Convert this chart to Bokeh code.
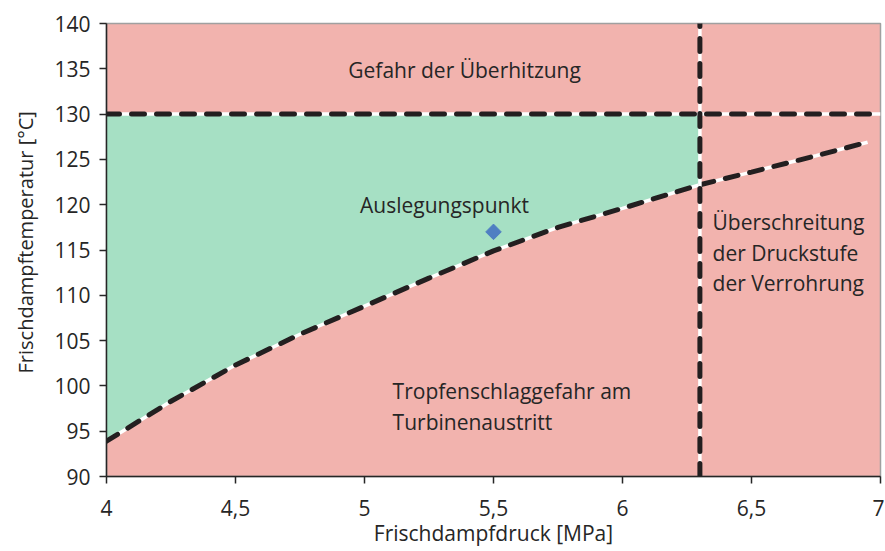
import math
from bokeh.plotting import figure
from bokeh.embed import file_html
from bokeh.resources import INLINE
from bokeh.models import FixedTicker, Label, Title
from bokeh.core.properties import value

# Data
curve_p = [4.0, 4.25, 4.5, 4.75, 5.0, 5.25, 5.5, 5.75, 6.0, 6.3, 6.5, 6.75, 6.95]
curve_t = [93.9, 98.3, 102.3, 105.7, 108.8, 111.9, 114.9, 117.5, 119.6, 122.2, 123.6, 125.4, 126.9]
temp_limit = 130
pressure_limit = 6.3
design_p = [5.5]
design_t = [117]
x_ticks = [4, 4.5, 5, 5.5, 6, 6.5, 7]
x_tick_labels = ["4", "4,5", "5", "5,5", "6", "6,5", "7"]
y_ticks = [90, 95, 100, 105, 110, 115, 120, 125, 130, 135, 140]

FONT = "Open Sans"
FS = "21px"
TXT = "#262626"
RED = "#F2B3AE"
GREEN = "#A6E0C4"
DASH = "#231F20"

p = figure(width=884, height=550, x_range=(4, 7), y_range=(90, 140),
           output_backend="svg", toolbar_location=None,
           min_border_left=106, min_border_right=4, min_border_top=23, min_border_bottom=74)

p.background_fill_color = RED
p.border_fill_color = "white"
p.outline_line_color = "#A0A0A0"
p.outline_line_width = 1.5
p.xgrid.visible = False
p.ygrid.visible = False

# green safe region
gx, gy = [], []
for xv, yv in zip(curve_p, curve_t):
    if xv <= pressure_limit:
        gx.append(xv)
        gy.append(yv)
gx = gx + [pressure_limit, curve_p[0]]
gy = gy + [temp_limit, temp_limit]
p.patch(gx, gy, fill_color=GREEN, line_color=None)

def dashed(xs, ys):
    p.line(xs, ys, line_color="white", line_width=3.5)
    p.line(xs, ys, line_color=DASH, line_width=5, line_dash="13 12", line_cap="round")

dashed(curve_p, curve_t)
dashed([4, 7], [temp_limit, temp_limit])
dashed([pressure_limit, pressure_limit], [90, 140])

# design point
p.scatter(design_p, design_t, marker="square", size=11, angle=math.pi / 4,
          fill_color="#4F7FC2", line_color="#4F7FC2")

def add_text(x, y, t, align="left"):
    p.add_layout(Label(x=x, y=y, text=t, text_font=FONT, text_font_size=FS,
                       text_color=TXT, text_align=align, text_baseline="middle"))

add_text(5.388, 134.9, "Gefahr der Überhitzung", "center")
add_text(5.31, 120.0, "Auslegungspunkt", "center")
add_text(5.109, 99.45, "Tropfenschlaggefahr am")
add_text(5.109, 96.0, "Turbinenaustritt")
add_text(6.349, 118.1, "Überschreitung")
add_text(6.349, 114.7, "der Druckstufe")
add_text(6.349, 111.4, "der Verrohrung")

# y axis title, placed like the original (above centre)
ytitle = Title(text="Frischdampftemperatur [°C]", align="left", offset=103,
               vertical_align="top",
               text_font=FONT, text_font_size="20px", text_font_style="normal",
               text_color=TXT, standoff=21)
p.add_layout(ytitle, "left")

# axes
p.xaxis.ticker = FixedTicker(ticks=x_ticks)
p.xaxis.major_label_overrides = {t: l for t, l in zip(x_ticks, x_tick_labels)}
p.yaxis.ticker = FixedTicker(ticks=y_ticks)
for ax in (p.xaxis, p.yaxis):
    ax.axis_line_color = "#262626"
    ax.axis_line_width = 1.5
    ax.major_tick_line_color = "#262626"
    ax.major_tick_line_width = 1.5
    ax.major_tick_out = 7
    ax.major_tick_in = 0
    ax.minor_tick_line_color = None
    ax.major_label_text_font = FONT
    ax.major_label_text_font_size = FS
    ax.major_label_text_color = TXT
    ax.axis_label_text_font = FONT
    ax.axis_label_text_font_size = FS
    ax.axis_label_text_font_style = "normal"
    ax.axis_label_text_color = TXT

p.xaxis.axis_label = "Frischdampfdruck [MPa]"
p.xaxis.major_label_standoff = 16
p.yaxis.major_label_standoff = 9
p.xaxis.axis_label_standoff = 0

open("out.html", "w").write(file_html(p, INLINE))
